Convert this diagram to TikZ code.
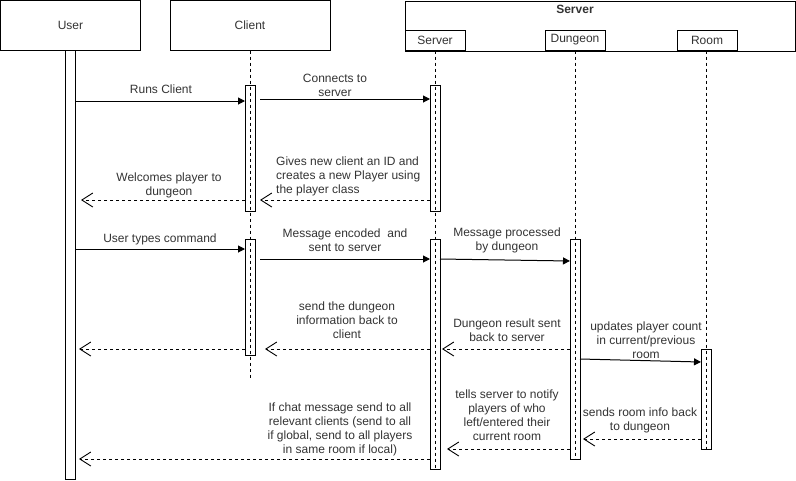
\documentclass[tikz,border=0pt]{standalone}
\usepackage{fontspec}
\setmainfont{Liberation Sans}
\usetikzlibrary{arrows.meta}
\definecolor{txt}{HTML}{333333}
\begin{document}
\begin{tikzpicture}[x=1pt,y=-1pt,
  every node/.style={font=\fontsize{12}{14}\selectfont, text=txt},
  head/.style={draw, line width=1pt, inner sep=0pt, minimum height=50pt},
  sub/.style={draw, line width=1pt, inner sep=0pt, minimum height=20pt, minimum width=60pt, fill=white},
  act/.style={draw, line width=1pt, inner sep=0pt, minimum width=10pt, fill=white},
  life/.style={line width=0.9pt, dash pattern=on 3pt off 3pt},
  msg/.style={line width=1pt, -{Triangle[length=7pt,width=7pt]}},
  ret/.style={line width=0.9pt, dash pattern=on 3pt off 3pt, -{Straight Barb[length=11pt,width=14pt,line width=0.9pt]}},
  lbl/.style={align=center, inner sep=0pt},
  lbll/.style={align=left, inner sep=0pt}
]
\useasboundingbox (0,0) rectangle (796,480);

% heads
\node[head, minimum width=140pt] (user) at (70.5,25) {User};
\node[head, minimum width=160pt] (client) at (250,25) {Client};
\node[head, minimum width=390pt, anchor=north west] (group) at (405,0.5) {};
\node[font=\fontsize{12}{14}\selectfont\bfseries] (grouplbl) at (575,9.5) {Server};
\node[sub] (serverh) at (435,40) {Server};
\node[sub] (dungeonh) at (575,40) {Dungeon};
\node[sub] (roomh) at (707,40) {Room};

% activations
\node[act, anchor=north, minimum height=429pt] (ua) at (70,50) {};
\node[act, anchor=north, minimum height=126pt] (ca1) at (250,85) {};
\node[act, anchor=north, minimum height=116pt] (ca2) at (250,239) {};
\node[act, anchor=north, minimum height=126pt] (sa1) at (435,85) {};
\node[act, anchor=north, minimum height=230pt] (sa2) at (435,239) {};
\node[act, anchor=north, minimum height=220pt] (da) at (575,239) {};
\node[act, anchor=north, minimum height=100pt] (ra) at (706,349) {};

% lifelines
\coordinate (cend) at (250,380);
\coordinate (send) at (435,470);
\coordinate (dend) at (575,460);
\coordinate (rend) at (706,450);
\draw[life] (client.south) -- (cend);
\draw[life] (serverh.south) -- (send);
\draw[life] (dungeonh.south) -- (dend);
\draw[life] (roomh.south -| rend) -- (rend);

% message endpoints
\coordinate (m1a) at (75,101);  \coordinate (m1b) at (245,101);
\coordinate (m2a) at (260,99);  \coordinate (m2b) at (430,99);
\coordinate (m3a) at (430,200); \coordinate (m3b) at (260,200);
\coordinate (m4a) at (245,200); \coordinate (m4b) at (81,200);
\coordinate (m5a) at (75,249);  \coordinate (m5b) at (245,249);
\coordinate (m6a) at (260,259); \coordinate (m6b) at (430,259);
\coordinate (m7a) at (440,259); \coordinate (m7b) at (570,261);
\coordinate (m8a) at (570,349); \coordinate (m8b) at (442,349);
\coordinate (m9a) at (430,349); \coordinate (m9b) at (265,349);
\coordinate (m10a) at (245,349); \coordinate (m10b) at (79,349);
\coordinate (m11a) at (580,359); \coordinate (m11b) at (701,362);
\coordinate (m12a) at (701,439); \coordinate (m12b) at (583,439);
\coordinate (m13a) at (570,449); \coordinate (m13b) at (447,449);
\coordinate (m14a) at (430,459); \coordinate (m14b) at (79,459);

\draw[msg] (m1a) -- (m1b);
\draw[msg] (m2a) -- (m2b);
\draw[ret] (m3a) -- (m3b);
\draw[ret] (m4a) -- (m4b);
\draw[msg] (m5a) -- (m5b);
\draw[msg] (m6a) -- (m6b);
\draw[msg] (m7a) -- (m7b);
\draw[ret] (m8a) -- (m8b);
\draw[ret] (m9a) -- (m9b);
\draw[ret] (m10a) -- (m10b);
\draw[msg] (m11a) -- (m11b);
\draw[ret] (m12a) -- (m12b);
\draw[ret] (m13a) -- (m13b);
\draw[ret] (m14a) -- (m14b);

% labels
\node[lbl] (l1) at (161,89) {Runs Client};
\node[lbl] (l2) at (335,85.5) {Connects to\\server};
\node[lbll, anchor=west] (l3) at (276,176.5) {Gives new client an ID and\\creates a new Player using\\the player class};
\node[lbl] (l4) at (169,185) {Welcomes player to\\dungeon};
\node[lbl] (l5) at (160,239) {User types command};
\node[lbl] (l6) at (345,240) {Message encoded\ \ and\\sent to server};
\node[lbl] (l7) at (507,240) {Message processed\\by dungeon};
\node[lbl] (l8) at (507,330) {Dungeon result sent\\back to server};
\node[lbl] (l9) at (347,320) {send the dungeon\\information back to\\client};
\node[lbl] (l10) at (646,340) {updates player count\\in current/previous\\room};
\node[lbl] (l11) at (640,420) {sends room info back\\to dungeon};
\node[lbl] (l12) at (507,415) {tells server to notify\\players of who\\left/entered their\\current room};
\node[lbl] (l13) at (340,429) {If chat message send to all\\relevant clients (send to all\\if global, send to all players\\in same room if local)};
\end{tikzpicture}
\end{document}
